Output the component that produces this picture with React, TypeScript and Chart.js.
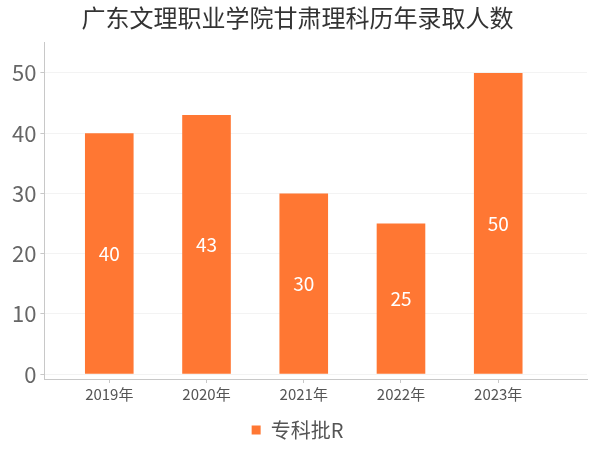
import React, { useEffect, useRef } from "react";
import { Chart, registerables } from "chart.js";

Chart.register(...registerables);

const categories = ["2019年", "2020年", "2021年", "2022年", "2023年"];
const seriesName = "专科批R";
const values = [40, 43, 30, 25, 50];
const yTicks = [0, 10, 20, 30, 40, 50];
const titleText = "广东文理职业学院甘肃理科历年录取人数";

const FONT = "'Noto Sans CJK SC', 'Noto Sans', sans-serif";

const barLabels = {
  id: "barLabels",
  afterDatasetsDraw(chart: any) {
    const ctx = chart.ctx;
    const meta = chart.getDatasetMeta(0);
    ctx.save();
    ctx.fillStyle = "#ffffff";
    ctx.font = `19px ${FONT}`;
    ctx.textAlign = "center";
    ctx.textBaseline = "middle";
    meta.data.forEach((el: any, i: number) => {
      const { x, y, base } = el.getProps(["x", "y", "base"], true);
      ctx.fillText(String(values[i]), x, (y + base) / 2);
    });
    ctx.restore();
  },
};

export default function App() {
  const ref = useRef<HTMLCanvasElement>(null);
  useEffect(() => {
    document.body.style.margin = "0";
    const chart = new Chart(ref.current!, {
      type: "bar",
      data: {
        datasets: [
          {
            label: seriesName,
            data: values.map((v, i) => ({ x: i, y: v })),
            backgroundColor: "#FF7733",
            borderWidth: 0,
            categoryPercentage: 1,
            barPercentage: 0.5,
          },
        ],
      },
      options: {
        animation: false,
        responsive: false,
        maintainAspectRatio: false,
        layout: { padding: { left: 8, right: 13, top: 0, bottom: 0 } },
        plugins: {
          title: {
            display: true,
            text: titleText,
            color: "#333333",
            font: { family: FONT, size: 24, weight: "normal" },
            padding: { top: 3, bottom: 11 },
          },
          legend: {
            position: "bottom",
            labels: {
              color: "#555555",
              font: { family: FONT, size: 20 },
              boxWidth: 9,
              boxHeight: 9,
              padding: 7,
            },
          },
          tooltip: { enabled: false },
        },
        scales: {
          x: {
            type: "linear",
            min: -0.667,
            max: 4.913,
            offset: false,
            afterBuildTicks(scale: any) {
              scale.ticks = categories.map((_, i) => ({ value: i }));
            },
            afterFit(scale: any) {
              scale.height += 8;
            },
            ticks: {
              color: "#555555",
              font: { family: FONT, size: 15 },
              padding: 2,
              autoSkip: false,
              maxRotation: 0,
              callback: (v: any) => categories[v as number] ?? "",
            },
            grid: {
              offset: false,
              drawOnChartArea: false,
              drawTicks: true,
              tickLength: 4,
              tickColor: "#c8c8c8",
            },
            border: { color: "#c8c8c8" },
          },
          y: {
            type: "linear",
            min: -0.8,
            max: 55,
            afterBuildTicks(scale: any) {
              scale.ticks = yTicks.map((v) => ({ value: v }));
            },
            ticks: {
              color: "#666666",
              font: { family: FONT, size: 22 },
              padding: 4,
            },
            grid: {
              color: "#f3f3f3",
              tickColor: "#c8c8c8",
              tickLength: 4,
            },
            border: { color: "#c8c8c8" },
          },
        },
      },
      plugins: [barLabels],
    } as any);
    return () => chart.destroy();
  }, []);
  return (
    <div style={{ position: "absolute", left: 0, top: 0, width: 600, height: 450 }}>
      <canvas ref={ref} width={600} height={450} style={{ width: 600, height: 450 }} />
    </div>
  );
}
